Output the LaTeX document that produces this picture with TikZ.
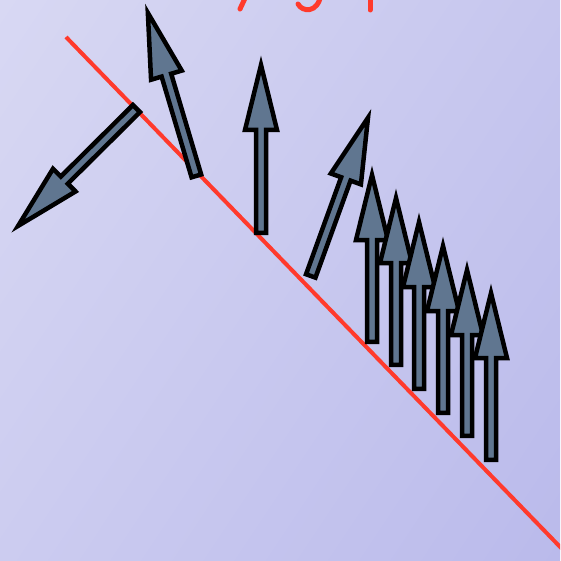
\documentclass[tikz,border=0pt]{standalone}
\usetikzlibrary{calc,shadings}
\definecolor{bgTL}{RGB}{216,216,243}
\definecolor{bgTR}{RGB}{198,198,238}
\definecolor{bgBL}{RGB}{204,204,240}
\definecolor{bgBR}{RGB}{186,186,235}
\definecolor{slate}{RGB}{96,118,144}
\definecolor{redline}{RGB}{255,58,44}
\tikzset{
  arrowbody/.style={draw=black, line width=4.5pt, fill=slate, line join=miter, miter limit=10},
  redstroke/.style={draw=redline, line width=4pt},
  glyph/.style={draw=redline, line width=5pt, line cap=round},
}
% #1 name, #2 tail (outer), #3 tip (outer)
\newcommand\slatearrow[3]{%
  \coordinate (#1T) at #2;
  \coordinate (#1H) at #3;
  \coordinate (#1t) at ($(#1T)!2.2pt!(#1H)$);
  \coordinate (#1h) at ($(#1H)!3pt!(#1T)$);
  \coordinate (#1b) at ($(#1H)!68pt!(#1T)$);
  \draw[arrowbody]
    ($(#1t)!5pt!90:(#1h)$) --
    ($(#1b)!5pt!-90:(#1t)$) --
    ($(#1b)!16pt!-90:(#1t)$) --
    (#1h) --
    ($(#1b)!16pt!90:(#1t)$) --
    ($(#1b)!5pt!90:(#1t)$) --
    ($(#1t)!5pt!-90:(#1h)$) -- cycle;
}
\begin{document}
\begin{tikzpicture}[x=1pt,y=-1pt]
\useasboundingbox (0,0) rectangle (560,561);
\clip (0,0) rectangle (560,561);
\shade[upper left=bgTL, upper right=bgTR, lower left=bgBL, lower right=bgBR] (0,0) rectangle (560,561);
% clipped red glyph fragments at the top edge
\draw[glyph] (247,-6) -- (240,9);
\draw[glyph] (298,4) .. controls (302,12) and (318,14) .. (321,-6);
\draw[glyph] (370,-6) -- (370,10);
% red line
\coordinate (L1) at (66,37);
\coordinate (L2) at (566,553);
\draw[redstroke] (L1) -- (L2);
% arrows
\slatearrow{a}{(138,107)}{(16,228)}
\slatearrow{b}{(197,178)}{(147,10)}
\slatearrow{c}{(261,235)}{(261,62)}
\slatearrow{d}{(310,278)}{(369,115)}
\slatearrow{e}{(372,344)}{(372,172)}
\slatearrow{f}{(396,367)}{(396,195)}
\slatearrow{g}{(419,391)}{(419,219)}
\slatearrow{h}{(443,415)}{(443,243)}
\slatearrow{i}{(467,438)}{(467,267)}
\slatearrow{j}{(491,462)}{(491,290)}
\end{tikzpicture}
\end{document}
